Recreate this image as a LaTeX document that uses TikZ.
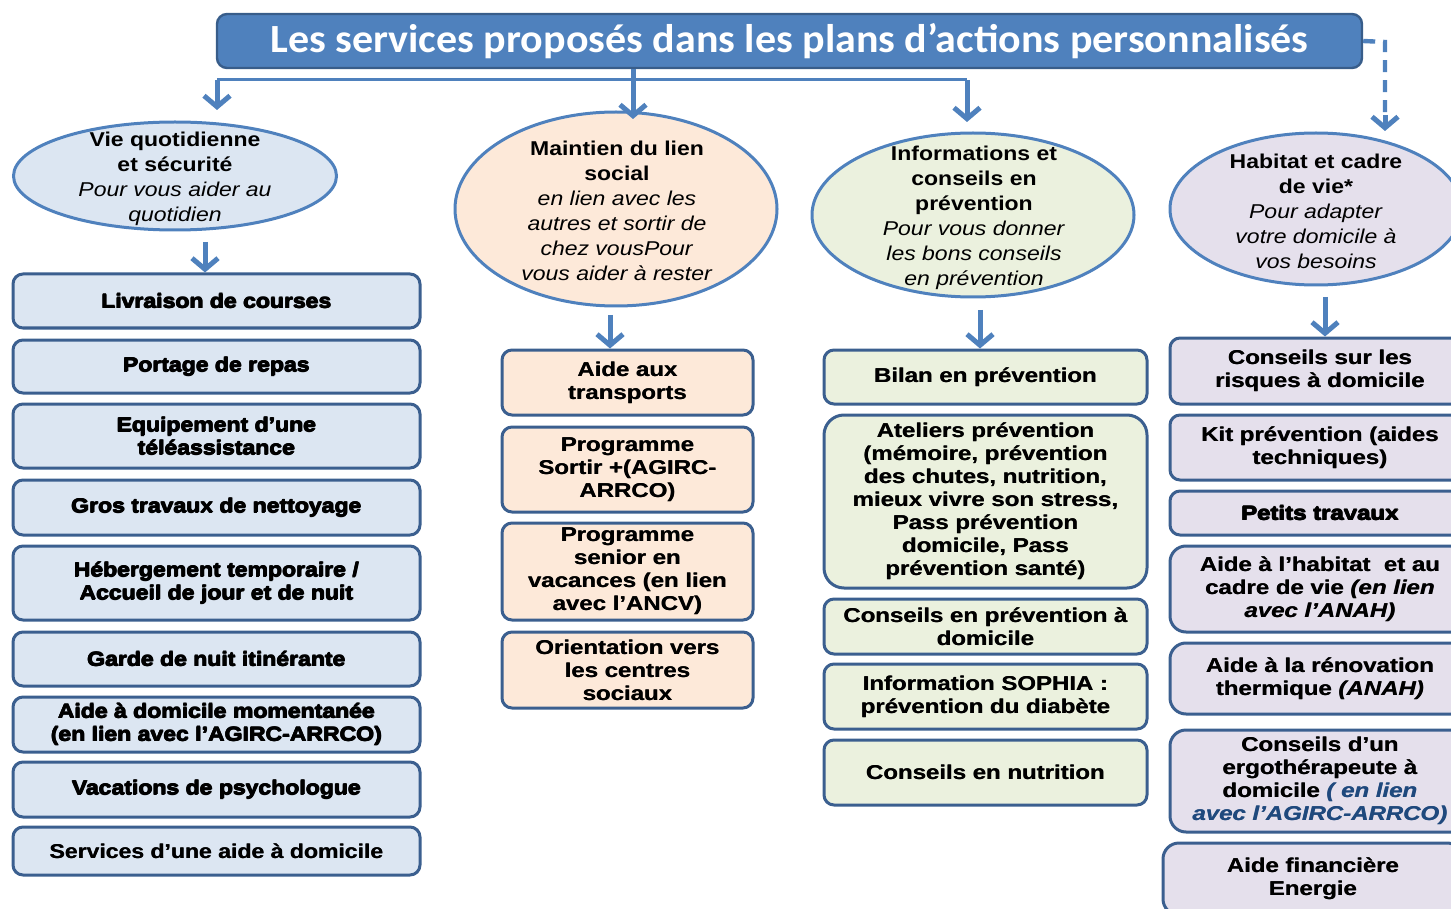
\documentclass[tikz,border=0pt]{standalone}
\usepackage{fontspec}
\setmainfont[FakeStretch=1.15]{Liberation Sans}
\newfontfamily\heavy[FakeStretch=1.15]{Liberation Sans Bold}
\newfontfamily\bxfont[FakeStretch=1.2,ItalicFont={Liberation Sans Bold Italic}]{Liberation Sans Bold}
\newfontfamily\tfont[FakeStretch=1.05]{Carlito}
\usetikzlibrary{shapes.geometric,arrows.meta}
% heavier text: overprint with small offsets
\newcommand\hv[1]{\leavevmode\rlap{\kern0.45pt #1}\rlap{\raisebox{0.3pt}{\kern0.22pt #1}}\rlap{\raisebox{-0.15pt}{#1}}#1\kern0.45pt}
\newcommand\hl[1]{\leavevmode\rlap{\kern0.22pt #1}#1\kern0.22pt}
\definecolor{mainblue}{HTML}{4F81BD}
\definecolor{darkbord}{HTML}{3B5F8F}
\definecolor{titlebord}{HTML}{385D8A}
\definecolor{cA}{HTML}{DCE6F2}
\definecolor{cB}{HTML}{FDE9D9}
\definecolor{cC}{HTML}{EBF1DE}
\definecolor{cD}{HTML}{E5E0EC}
\definecolor{linkblue}{HTML}{1F497D}
\tikzset{
  bx/.style={draw=darkbord, line width=1.5pt, rounded corners=5pt, align=center, inner sep=0pt, text=black,
    font=\fontsize{10pt}{11.5pt}\bxfont},
  bxA/.style={bx, fill=cA, minimum width=203.5pt, font=\fontsize{10pt}{11.5pt}\heavy},
  bxB/.style={bx, fill=cB, minimum width=125.5pt},
  bxC/.style={bx, fill=cC, minimum width=161.5pt},
  bxD/.style={bx, fill=cD, minimum width=150pt},
  ell/.style={ellipse, draw=mainblue, line width=1.5pt, inner sep=0pt},
  etext/.style={align=center, inner sep=0pt, font=\fontsize{10pt}{12.5pt}\selectfont},
  arrtip/.style={-{Straight Barb[length=5.5pt,width=13pt,line width=2.5pt]}},
  arr/.style={draw=mainblue, line width=2.5pt, arrtip},
  conn/.style={draw=mainblue, line width=1.5pt},
  dconn/.style={draw=mainblue, line width=2.2pt, dash pattern=on 6pt off 4pt}
}
\begin{document}
\begin{tikzpicture}[x=0.5pt,y=-0.5pt]
\useasboundingbox (0,0) rectangle (1451,909);
\clip (0,0) rectangle (1451,909);
% title
\node[draw=titlebord, line width=1.2pt, fill=mainblue, rounded corners=5pt, minimum width=572.5pt, minimum height=27pt, inner sep=0pt,
  text=white, font=\fontsize{20pt}{22pt}\tfont\bfseries] (title) at (789.5,41) {Les services proposés dans les plans d’actions personnalisés};

% ellipses
\node[ell, fill=cA, minimum width=161.5pt, minimum height=54pt] (e1) at (175,176) {};
\node[etext] (t1) at (175,179) {\textbf{Vie quotidienne}\\\textbf{et sécurité}\\\textit{Pour vous aider au}\\\textit{quotidien}};
\node[ell, fill=cB, minimum width=161pt, minimum height=97pt] (e2) at (616,209) {};
\node[etext] (t2) at (617,211) {\textbf{Maintien du lien}\\\textbf{social}\\\textit{en lien avec les}\\\textit{autres et sortir de}\\\textit{chez vousPour}\\\textit{vous aider à rester}};
\node[ell, fill=cC, minimum width=161pt, minimum height=82pt] (e3) at (973,215) {};
\node[etext] (t3) at (974,218) {\textbf{Informations et}\\\textbf{conseils en}\\\textbf{prévention}\\\textit{Pour vous donner}\\\textit{les bons conseils}\\\textit{en prévention}};
\node[ell, fill=cD, minimum width=146pt, minimum height=76pt] (e4) at (1316,209) {};
\node[etext] (t4) at (1316,211) {\textbf{Habitat et cadre}\\\textbf{de vie*}\\\textit{Pour adapter}\\\textit{votre domicile à}\\\textit{vos besoins}};

% column 1
\node[bxA, minimum height=27pt] (a1) at (216.5,301) {\hv{Livraison de courses}};
\node[bxA, minimum height=26.5pt] (a2) at (216.5,366.5) {\hv{Portage de repas}};
\node[bxA, minimum height=32pt] (a3) at (216.5,436) {\hv{Equipement d’une}\\\hv{téléassistance}};
\node[bxA, minimum height=27.5pt] (a4) at (216.5,507.5) {\hv{Gros travaux de nettoyage}};
\node[bxA, minimum height=37pt] (a5) at (216.5,583) {\hv{Hébergement temporaire /}\\\hv{Accueil de jour et de nuit}};
\node[bxA, minimum height=27pt] (a6) at (216.5,659) {\hv{Garde de nuit itinérante}};
\node[bxA, minimum height=27.5pt] (a7) at (216.5,724.5) {\hv{Aide à domicile momentanée}\\\hv{(en lien avec l’AGIRC-ARRCO)}};
\node[bxA, minimum height=27.5pt] (a8) at (216.5,789.5) {\hv{Vacations de psychologue}};
\node[bxA, minimum height=24pt] (a9) at (216.5,851) {\hl{Services d’une aide à domicile}};

% column 2
\node[bxB, minimum height=32.5pt] (b1) at (627.5,382.5) {\hl{Aide aux}\\\hl{transports}};
\node[bxB, minimum height=42.5pt] (b2) at (627.5,469.5) {\hl{Programme}\\\hl{Sortir +(AGIRC-}\\\hl{ARRCO)}};
\node[bxB, minimum height=48.5pt] (b3) at (627.5,571.5) {\hl{Programme}\\\hl{senior en}\\\hl{vacances (en lien}\\\hl{avec l’ANCV)}};
\node[bxB, minimum height=38pt] (b4) at (627.5,670) {\hl{Orientation vers}\\\hl{les centres}\\\hl{sociaux}};

% column 3
\node[bxC, minimum height=27pt] (c1) at (985.5,377) {\hl{Bilan en prévention}};
\node[bxC, minimum height=86.5pt, rounded corners=10pt] (c2) at (985.5,501.5) {\hl{Ateliers prévention}\\\hl{(mémoire, prévention}\\\hl{des chutes, nutrition,}\\\hl{mieux vivre son stress,}\\\hl{Pass prévention}\\\hl{domicile, Pass}\\\hl{prévention santé)}};
\node[bxC, minimum height=27.5pt] (c3) at (985.5,626.5) {\hl{Conseils en prévention à}\\\hl{domicile}};
\node[bxC, minimum height=32.5pt] (c4) at (985.5,696.5) {\hl{Information SOPHIA :}\\\hl{prévention du diabète}};
\node[bxC, minimum height=32.5pt] (c5) at (985.5,772.5) {\hl{Conseils en nutrition}};

% column 4
\node[bxD, minimum height=33pt] (d1) at (1320,371) {\hl{Conseils sur les}\\\hl{risques à domicile}};
\node[bxD, minimum height=32.5pt] (d2) at (1320,447.5) {\hl{Kit prévention (aides}\\\hl{techniques)}};
\node[bxD, minimum height=22pt] (d3) at (1320,513) {\hv{Petits travaux}};
\node[bxD, minimum height=43pt, rounded corners=8pt] (d4) at (1320,589) {\hl{Aide à l’habitat\ \ et au}\\\hl{cadre de vie \textit{(en lien}}\\\hl{\textit{avec l’ANAH)}}};
\node[bxD, minimum height=35.5pt, rounded corners=8pt] (d5) at (1320,678.5) {\hl{Aide à la rénovation}\\\hl{thermique \textit{(ANAH)}}};
\node[bxD, minimum height=51pt, rounded corners=8pt] (d6) at (1320,781) {\hl{Conseils d’un}\\\hl{ergothérapeute à}\\\hl{domicile \textcolor{linkblue}{\textit{( en lien}}}\\\hl{\textcolor{linkblue}{\textit{avec l’AGIRC-ARRCO)}}}};
\node[bxD, minimum height=36pt, rounded corners=8pt] (d7) at (1313,879) {\hl{Aide financière}\\\hl{Energie}};

% top connectors
\coordinate (j0) at (633,80);
\coordinate (j1) at (217,80);
\coordinate (j3) at (967,80);
\coordinate (m0) at (633,119);
\coordinate (m1) at (217,110);
\coordinate (m3) at (967,122);
\draw[conn] (j1) -- (j3);
\draw[arr] (title.south -| j0) -- (m0);
\draw[arr] (j1) -- (m1);
\draw[arr] (j3) -- (m3);
\coordinate (k0) at (1385,42);
\coordinate (k1) at (1385,118);
\coordinate (k2) at (1385,131);
\draw[dconn] (title.east) -- (k0) -- (k1);
\draw[arr] ([yshift=1.5pt]k1) -- (k2);

% ellipse to boxes
\coordinate (s1) at (205,242);
\coordinate (s2) at (610,315);
\coordinate (s3) at (980,310);
\coordinate (s4) at (1325,297);
\draw[arr] (s1) -- (s1 |- a1.north);
\draw[arr] (s2) -- (s2 |- b1.north);
\draw[arr] (s3) -- (s3 |- c1.north);
\draw[arr] (s4) -- (s4 |- d1.north);
\end{tikzpicture}
\end{document}
